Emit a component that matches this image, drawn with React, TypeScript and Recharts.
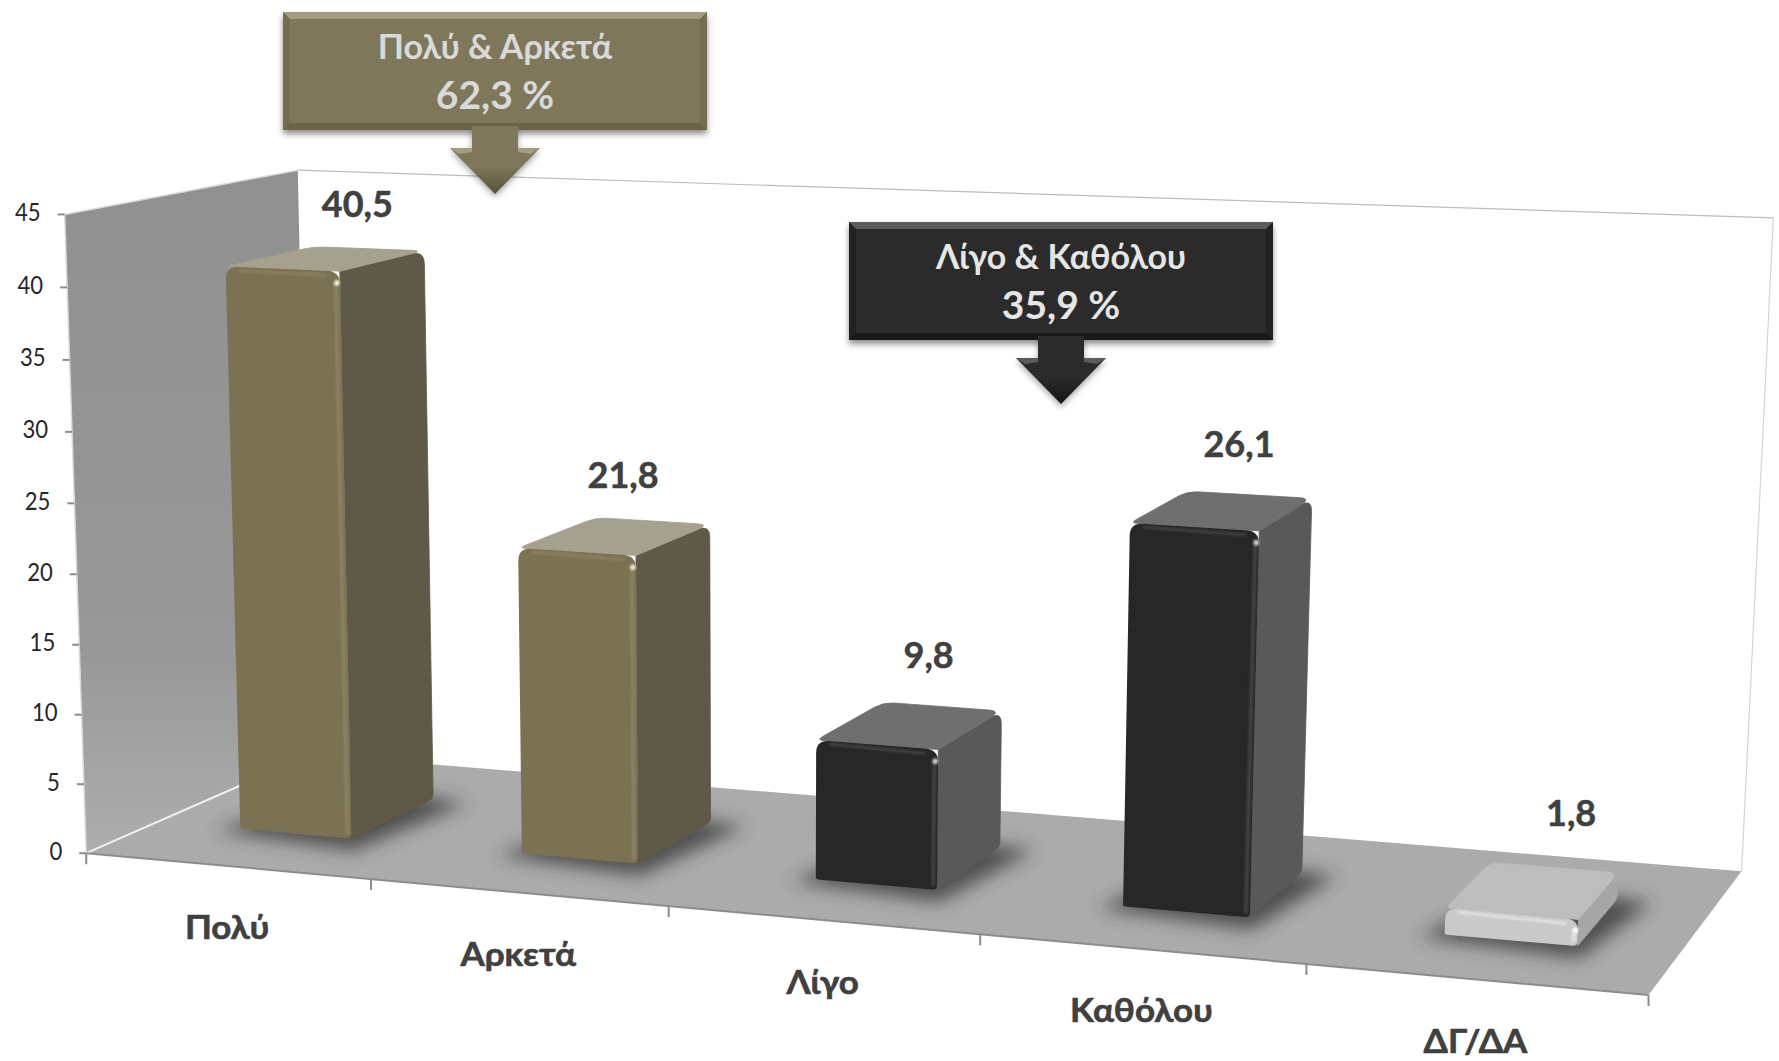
import React from 'react';
import { BarChart, Bar, XAxis, YAxis, LabelList } from 'recharts';

const categories = ['Πολύ', 'Αρκετά', 'Λίγο', 'Καθόλου', 'ΔΓ/ΔΑ'];
const values = [40.5, 21.8, 9.8, 26.1, 1.8];
const barTones = ['olive', 'olive', 'black', 'black', 'light'];
const yTicks = [0, 5, 10, 15, 20, 25, 30, 35, 40, 45];
const calloutTitles = ['Πολύ & Αρκετά', 'Λίγο & Καθόλου'];
const calloutValues = ['62,3 %', '35,9 %'];

const data = categories.map((name, i) => ({ name, value: values[i], tone: barTones[i] }));

const WIDTH = 1779;
const HEIGHT = 1061;
const S = WIDTH / 1568;
const FONT = 'Lato, "Noto Sans", sans-serif';
const TEXT_DARK = '#404040';

// recharts plot box, the 3d projection maps it onto the slanted scene
const PLOT = { x: 90, y: 190, w: 1600, h: 800 };

type P = [number, number];
const pt = (x: number, y: number): P => [x * S, y * S];

// floor corners
const FL = pt(76, 752);
const FR = pt(1453, 877);
const BR = pt(1535, 768);
const BL = pt(274, 665);
const VP = pt(674, 18470);
// wall height at each floor corner
const H_FL = 563 * S;
const H_FR = 627 * S;
const H_BR = 576 * S;
const H_BL = 515 * S;
const DEPTH_FRONT = 0.3;
const DEPTH_BACK = 0.69;

const den = (FR[0] - BR[0]) * (BL[1] - BR[1]) - (BL[0] - BR[0]) * (FR[1] - BR[1]);
const sx = FL[0] - FR[0] + BR[0] - BL[0];
const sy = FL[1] - FR[1] + BR[1] - BL[1];
const g = (sx * (BL[1] - BR[1]) - (BL[0] - BR[0]) * sy) / den;
const h = ((FR[0] - BR[0]) * sy - sx * (FR[1] - BR[1])) / den;

const floorPoint = (u: number, d: number): P => {
  const w = g * u + h * d + 1;
  return [
    ((FR[0] - FL[0] + g * FR[0]) * u + (BL[0] - FL[0] + h * BL[0]) * d + FL[0]) / w,
    ((FR[1] - FL[1] + g * FR[1]) * u + (BL[1] - FL[1] + h * BL[1]) * d + FL[1]) / w,
  ];
};

const project = (u: number, d: number, f: number): P => {
  const [x, y] = floorPoint(u, d);
  const left = H_FL + (H_BL - H_FL) * d;
  const right = H_FR + (H_BR - H_FR) * d;
  const t = (0.969 * f) / (1 - 0.031 * f);
  const dy = (left + (right - left) * u) * t;
  return [x + (dy * (x - VP[0])) / (VP[1] - y), y - dy];
};

const plotU = (x: number) => (x - PLOT.x) / PLOT.w;
const plotF = (y: number) => (PLOT.y + PLOT.h - y) / PLOT.h;
const poly = (pts: P[]) => pts.map((p) => p.join(',')).join(' ');

const roundPath = (pts: P[], radii: number[]) => {
  let out = '';
  pts.forEach((p, i) => {
    const prev = pts[(i + pts.length - 1) % pts.length];
    const next = pts[(i + 1) % pts.length];
    const r = radii[i];
    const d1 = Math.hypot(prev[0] - p[0], prev[1] - p[1]);
    const d2 = Math.hypot(next[0] - p[0], next[1] - p[1]);
    const a: P = [p[0] + ((prev[0] - p[0]) * r) / d1, p[1] + ((prev[1] - p[1]) * r) / d1];
    const b: P = [p[0] + ((next[0] - p[0]) * r) / d2, p[1] + ((next[1] - p[1]) * r) / d2];
    out += `${i === 0 ? 'M' : 'L'}${a[0]},${a[1]} Q${p[0]},${p[1]} ${b[0]},${b[1]} `;
  });
  return out + 'Z';
};

const TONES: Record<string, { front: string; edge: string; side: string; top: string; glint: string }> = {
  olive: { front: '#7b7253', edge: '#8c8363', side: '#5e5a47', top: '#a5a18e', glint: '#f2eeda' },
  black: { front: '#272727', edge: '#444444', side: '#595959', top: '#6f6f6f', glint: '#d0d0d0' },
  light: { front: '#c9c9c9', edge: '#e4e4e4', side: '#a6a6a6', top: '#bdbdbd', glint: '#ffffff' },
};

const Scene = () => {
  const wallTopFront = project(0, 0, 1);
  const wallTopBack = project(0, 1, 1);
  const backTopRight = project(1, 1, 1);
  return (
    <g>
      <defs>
        <filter id="blur" x="-30%" y="-60%" width="160%" height="220%">
          <feGaussianBlur stdDeviation="9" />
        </filter>
        <filter id="soft" x="-50%" y="-50%" width="200%" height="200%">
          <feGaussianBlur stdDeviation="1.2" />
        </filter>
        <filter id="drop" x="-5%" y="-5%" width="110%" height="120%">
          <feGaussianBlur stdDeviation="3" />
        </filter>
        <linearGradient id="wall" x1="0" y1="0" x2="0" y2="1">
          <stop offset="0" stopColor="#909090" />
          <stop offset="0.7" stopColor="#989898" />
          <stop offset="1" stopColor="#adadad" />
        </linearGradient>
        <linearGradient id="headOlive" x1="0" y1="0" x2="0" y2="1">
          <stop offset="0" stopColor="#7f7759" />
          <stop offset="0.6" stopColor="#7f7759" />
          <stop offset="1" stopColor="#575239" />
        </linearGradient>
        <linearGradient id="headBlack" x1="0" y1="0" x2="0" y2="1">
          <stop offset="0" stopColor="#2b2b2b" />
          <stop offset="0.6" stopColor="#2b2b2b" />
          <stop offset="1" stopColor="#141414" />
        </linearGradient>
      </defs>
      {/* back wall */}
      <polygon points={poly([wallTopBack, backTopRight, BR, BL])} fill="#ffffff" />
      <line x1={wallTopBack[0]} y1={wallTopBack[1]} x2={backTopRight[0]} y2={backTopRight[1]} stroke="#bdbdbd" strokeWidth={1.2} />
      <line x1={backTopRight[0]} y1={backTopRight[1]} x2={BR[0]} y2={BR[1]} stroke="#d4d4d4" strokeWidth={1.2} />
      {/* side wall and floor */}
      <polygon points={poly([wallTopFront, wallTopBack, BL, FL])} fill="url(#wall)" />
      <line x1={wallTopFront[0]} y1={wallTopFront[1]} x2={wallTopBack[0]} y2={wallTopBack[1]} stroke="#d9d9d9" strokeWidth={1.5} />
      <polygon points={poly([FL, FR, BR, BL])} fill="#ababab" />
      <line x1={FL[0]} y1={FL[1]} x2={BL[0]} y2={BL[1]} stroke="#f2f2f2" strokeWidth={2} />
      <line x1={FL[0]} y1={FL[1]} x2={FR[0]} y2={FR[1]} stroke="#8c8c8c" strokeWidth={2} />
      <line x1={wallTopFront[0]} y1={wallTopFront[1]} x2={FL[0]} y2={FL[1]} stroke="#d9d9d9" strokeWidth={1.5} />
      {/* axis ticks between the categories */}
      {[...categories, ''].map((_, i) => {
        const [x, y] = floorPoint(i / categories.length, 0);
        return <line key={i} x1={x} y1={y} x2={x} y2={y + 11} stroke="#8c8c8c" strokeWidth={2} />;
      })}
    </g>
  );
};

const Box3D = (props: any) => {
  const { x, y, width, payload } = props;
  const tone = TONES[payload.tone];
  const u0 = plotU(x);
  const u1 = plotU(x + width);
  const f = plotF(y);
  const a = project(u0, DEPTH_FRONT, 0);
  const b = project(u1, DEPTH_FRONT, 0);
  const c = project(u1, DEPTH_BACK, 0);
  const e = project(u0, DEPTH_BACK, 0);
  const at = project(u0, DEPTH_FRONT, f);
  const bt = project(u1, DEPTH_FRONT, f);
  const ct = project(u1, DEPTH_BACK, f);
  const et = project(u0, DEPTH_BACK, f);
  const r = Math.min(13, (a[1] - at[1]) / 2.2);
  const glint: P = [bt[0] - 3, bt[1] + r * 0.9];
  return (
    <g>
      <polygon
        points={poly([[a[0] - 24, a[1] + 2], [b[0] + 2, b[1] + 12], [c[0] + 34, c[1] + 4], [e[0] + 30, e[1] - 4]])}
        fill="#303030"
        opacity={0.75}
        filter="url(#blur)"
      />
      <path d={roundPath([b, c, ct, bt], [2, 5, r, 0])} fill={tone.side} stroke={tone.side} strokeWidth={0.8} />
      <path d={roundPath([at, et, ct, bt], [r * 0.6, r * 0.8, r, 0])} fill={tone.top} stroke={tone.top} strokeWidth={0.8} />
      <path d={roundPath([a, b, bt, at], [2, 5, r, r])} fill={tone.front} />
      <g filter="url(#soft)" opacity={0.9}>
        <line x1={b[0] - 4} y1={b[1] - 4} x2={bt[0] - 4} y2={bt[1] + r} stroke={tone.edge} strokeWidth={4} />
        <line x1={at[0] + r} y1={at[1] + 4} x2={bt[0] - r} y2={bt[1] + 4} stroke={tone.edge} strokeWidth={3} />
      </g>
      <circle cx={glint[0]} cy={glint[1]} r={2.8} fill={tone.glint} filter="url(#soft)" />
    </g>
  );
};

const labelNudge: P[] = [[-10, 8], [-26, 7], [-12, 2], [-9, 3], [15, -1]];

const BarValue = (props: any) => {
  const { x, y, width, value, index } = props;
  const [px, py] = project(plotU(x + width / 2), DEPTH_BACK, plotF(y));
  return (
    <text
      transform={`translate(${px + labelNudge[index][0] * S},${py + (labelNudge[index][1] - 44) * S})`}
      textAnchor="middle"
      dominantBaseline="middle"
      fontFamily={FONT}
      fontWeight={700}
      fontSize={36}
      fill={TEXT_DARK}
      stroke={TEXT_DARK}
      strokeWidth={0.5}
    >
      {String(value).replace('.', ',')}
    </text>
  );
};

const ValueTick = (props: any) => {
  const { y, payload } = props;
  const [px, py] = project(0, 0, plotF(y));
  return (
    <g>
      <line x1={px - 7} y1={py} x2={px} y2={py} stroke="#8c8c8c" strokeWidth={2} />
      <text
        transform={`translate(${px - 24},${py}) scale(0.85,1)`}
        textAnchor="end"
        dominantBaseline="middle"
        fontFamily={FONT}
        fontSize={26}
        fill="#262626"
      >
        {payload.value}
      </text>
    </g>
  );
};

const CategoryTick = (props: any) => {
  const { x, payload } = props;
  const [px, py] = floorPoint(plotU(x), 0);
  return (
    <text
      transform={`translate(${px},${py + 65}) scale(1.06,1)`}
      textAnchor="middle"
      dominantBaseline="middle"
      fontFamily={FONT}
      fontWeight={700}
      fontSize={33}
      fill={TEXT_DARK}
      stroke={TEXT_DARK}
      strokeWidth={0.6}
    >
      {payload.value}
    </text>
  );
};

const Callout = ({ x, y, title, value, fill, light, dark, color, head }: any) => {
  const w = 424;
  const hgt = 118;
  const cx = x + w / 2;
  const b = 7;
  const arrow: P[] = [
    [cx - 23, y + hgt - 4],
    [cx + 23, y + hgt - 4],
    [cx + 23, y + hgt + 18],
    [cx + 45, y + hgt + 18],
    [cx, y + hgt + 64],
    [cx - 45, y + hgt + 18],
    [cx - 23, y + hgt + 18],
  ];
  return (
    <g>
      <rect x={x} y={y + 4} width={w} height={hgt} fill="#000" opacity={0.45} filter="url(#drop)" />
      <polygon points={poly(arrow.map(([a, c]) => [a, c + 3] as P))} fill="#000" opacity={0.35} filter="url(#drop)" />
      <rect x={x} y={y} width={w} height={hgt} fill={fill} />
      <polygon points={poly([[x, y], [x + w, y], [x + w - b, y + b], [x + b, y + b]])} fill={light} />
      <polygon points={poly([[x, y + hgt], [x + w, y + hgt], [x + w - b, y + hgt - b], [x + b, y + hgt - b]])} fill={dark} />
      <polygon points={poly([[x, y], [x + b, y + b], [x + b, y + hgt - b], [x, y + hgt]])} fill={dark} opacity={0.5} />
      <polygon points={poly([[x + w, y], [x + w - b, y + b], [x + w - b, y + hgt - b], [x + w, y + hgt]])} fill={dark} opacity={0.5} />
      <polygon points={poly(arrow)} fill={`url(#${head})`} />
      <polygon points={poly([[cx - 45, y + hgt + 18], [cx - 23, y + hgt + 18], [cx - 23, y + hgt + 22], [cx - 36, y + hgt + 24]])} fill={light} />
      <polygon points={poly([[cx + 45, y + hgt + 18], [cx + 23, y + hgt + 18], [cx + 23, y + hgt + 22], [cx + 36, y + hgt + 24]])} fill={light} />
      <text
        transform={`translate(${cx},${y + 38})`}
        textAnchor="middle"
        dominantBaseline="middle"
        fontFamily={FONT}
        fontWeight={700}
        fontSize={34}
        fill={color}
      >
        {title}
      </text>
      <text
        transform={`translate(${cx},${y + 87})`}
        textAnchor="middle"
        dominantBaseline="middle"
        fontFamily={FONT}
        fontWeight={700}
        fontSize={39}
        fill={color}
      >
        {value}
      </text>
    </g>
  );
};

export default function App() {
  return (
    <div style={{ position: 'absolute', left: 0, top: 0, width: WIDTH, height: HEIGHT, background: '#fff' }}>
      <BarChart
        width={WIDTH}
        height={HEIGHT}
        data={data}
        barCategoryGap="30%"
        margin={{ top: PLOT.y, left: PLOT.x - 60, right: WIDTH - PLOT.x - PLOT.w, bottom: HEIGHT - PLOT.y - PLOT.h - 30 }}
      >
        <Scene />
        <XAxis dataKey="name" height={30} axisLine={false} tickLine={false} interval={0} tick={<CategoryTick />} />
        <YAxis width={60} domain={[0, 45]} ticks={yTicks} axisLine={false} tickLine={false} tick={<ValueTick />} />
        <Bar dataKey="value" isAnimationActive={false} shape={<Box3D />}>
          <LabelList dataKey="value" content={<BarValue />} />
        </Bar>
        <Callout x={283} y={12} title={calloutTitles[0]} value={calloutValues[0]} fill="#7f7759" light="#a39d82" dark="#6b6448" color="#d9d9d9" head="headOlive" />
        <Callout x={849} y={222} title={calloutTitles[1]} value={calloutValues[1]} fill="#2b2b2b" light="#5c5c5c" dark="#1a1a1a" color="#e6e6e6" head="headBlack" />
      </BarChart>
    </div>
  );
}
